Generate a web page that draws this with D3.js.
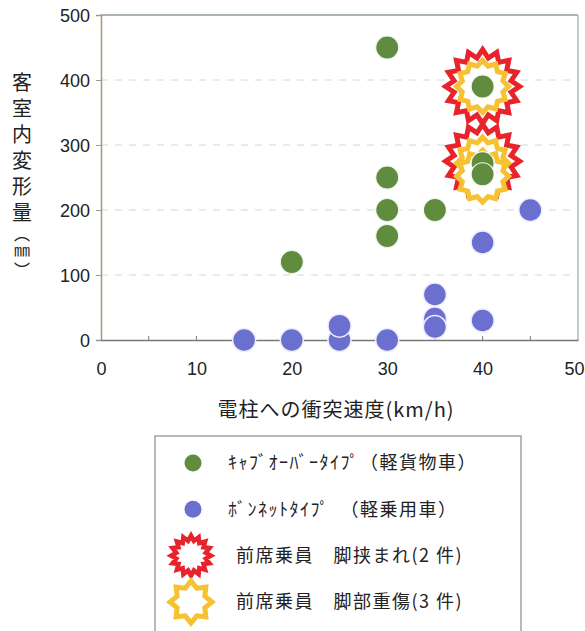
<!DOCTYPE html>
<html>
<head>
<meta charset="utf-8">
<script src="https://cdn.jsdelivr.net/npm/d3@7"></script>
<style>
  body { margin: 0; background: #fff; }
  text { font-family: "Noto Sans CJK JP", sans-serif; }
  .tick-label { font-family: "Liberation Sans", Arial, sans-serif; font-size: 18px; fill: #222; }
</style>
</head>
<body>
<div id="chart"></div>
<script>
// data
const cabSpeed = [30, 40, 40, 40, 30, 30, 35, 30, 20];
const cabDeform = [450, 390, 272, 255, 250, 200, 200, 160, 120];
const bonSpeed = [15, 20, 25, 25, 30, 35, 35, 35, 40, 40, 45];
const bonDeform = [0, 0, 0, 22, 0, 70, 33, 20, 150, 30, 200];
// injuries: leg trapped (red) / severe leg injury (yellow)
const trappedSpeed = [40, 40];
const trappedDeform = [390, 275];
const injurySpeed = [40, 40, 40];
const injuryDeform = [390, 272, 252];

const xTicks = [0, 10, 20, 30, 40, 50];
const xMinor = [5, 10, 15, 20, 25, 30, 35, 40, 45];
const yTicks = [0, 100, 200, 300, 400, 500];
const yGrid = [100, 200, 300, 400];

const yTitle = "客室内変形量";
const yUnit = "（㎜）";
const xTitle = "電柱への衝突速度(km/h)";
const legendLabels = [
    "ｷｬﾌﾞｵｰﾊﾞｰﾀｲﾌﾟ（軽貨物車）",
    "ﾎﾞﾝﾈｯﾄﾀｲﾌﾟ　（軽乗用車）",
    "前席乗員　脚挟まれ(2 件)",
    "前席乗員　脚部重傷(3 件)"
];

const W = 585, H = 631;
const green = "#5f8c3e", blue = "#6a6fd0", red = "#e8232b", yellow = "#f6c232";

const svg = d3.select("#chart").append("svg")
    .attr("width", W).attr("height", H);

const x = d3.scaleLinear().domain([0, 50]).range([101, 578]);
const y = d3.scaleLinear().domain([0, 500]).range([340, 15]);

// star shape
function starPath(n, rOut, rIn) {
    return d3.lineRadial()
        .angle((d, i) => Math.PI * i / n)
        .radius((d, i) => i % 2 ? rIn : rOut)
        .curve(d3.curveLinearClosed)(d3.range(2 * n));
}

// grid lines
svg.append("g").selectAll("line")
    .data(yGrid).enter().append("line")
    .attr("x1", x(0)).attr("x2", x(50))
    .attr("y1", d => y(d)).attr("y2", d => y(d))
    .attr("stroke", "#d4d8d8").attr("stroke-dasharray", "7,7");

// frame
svg.append("line").attr("x1", x(0)).attr("x2", x(50)).attr("y1", y(500)).attr("y2", y(500))
    .attr("stroke", "#8e9c9c").attr("stroke-width", 1.5);
svg.append("line").attr("x1", x(50)).attr("x2", x(50)).attr("y1", y(500)).attr("y2", y(0))
    .attr("stroke", "#a0a8a8").attr("stroke-width", 1.2);

// y axis
const yAxis = svg.append("g").attr("transform", `translate(${x(0)},0)`)
    .call(d3.axisLeft(y).tickValues(yTicks).tickSize(5).tickPadding(6));
yAxis.select(".domain").attr("stroke", "#a89878").attr("stroke-width", 1.5);
yAxis.selectAll(".tick line").attr("stroke", "#999");
yAxis.selectAll(".tick text").attr("class", "tick-label").attr("dy", "0.36em");

// x axis
const xAxis = svg.append("g").attr("transform", `translate(0,${y(0)})`)
    .call(d3.axisBottom(x).tickValues(xTicks).tickSize(0).tickPadding(22));
xAxis.select(".domain").attr("stroke", "#777").attr("stroke-width", 1.5);
xAxis.selectAll(".tick text").attr("class", "tick-label");
// last label sits against the page edge
xAxis.selectAll(".tick text").filter(d => d === 50).attr("dx", -4);
svg.append("g").selectAll("line")
    .data(xMinor).enter().append("line")
    .attr("x1", d => x(d)).attr("x2", d => x(d))
    .attr("y1", y(0)).attr("y2", y(0) - 4)
    .attr("stroke", "#777");

// axis titles
svg.append("text")
    .attr("x", 336).attr("y", 417)
    .attr("text-anchor", "middle")
    .style("font-size", "20px").style("letter-spacing", "1px")
    .attr("fill", "#222")
    .text(xTitle);

svg.append("text")
    .attr("x", 22).attr("y", 72)
    .style("writing-mode", "vertical-rl")
    .style("font-size", "20px").style("letter-spacing", "6px")
    .attr("fill", "#222")
    .text(yTitle);
svg.append("text")
    .attr("x", 22).attr("y", 226)
    .style("writing-mode", "vertical-rl")
    .style("font-size", "16px").style("letter-spacing", "2px")
    .attr("fill", "#222")
    .text(yUnit);

// injury stars
svg.append("g").selectAll("path")
    .data(d3.zip(trappedSpeed, trappedDeform)).enter().append("path")
    .attr("d", starPath(16, 37, 29))
    .attr("transform", d => `translate(${x(d[0])},${y(d[1])})`)
    .attr("fill", "#fff").attr("stroke", red).attr("stroke-width", 5);
svg.append("g").selectAll("path")
    .data(d3.zip(injurySpeed, injuryDeform)).enter().append("path")
    .attr("d", starPath(12, 26, 21))
    .attr("transform", d => `translate(${x(d[0])},${y(d[1])})`)
    .attr("fill", "#fff").attr("stroke", yellow).attr("stroke-width", 5);

// points
svg.append("g").selectAll("circle")
    .data(d3.zip(bonSpeed, bonDeform)).enter().append("circle")
    .attr("cx", d => x(d[0])).attr("cy", d => y(d[1])).attr("r", 11.5)
    .attr("fill", blue).attr("stroke", "#eef").attr("stroke-width", 1.5);
svg.append("g").selectAll("circle")
    .data(d3.zip(cabSpeed, cabDeform)).enter().append("circle")
    .attr("cx", d => x(d[0])).attr("cy", d => y(d[1])).attr("r", 11.5)
    .attr("fill", green).attr("stroke", "#f4f8ee").attr("stroke-width", 1.2);

// legend
const legend = svg.append("g");
legend.append("rect")
    .attr("x", 155).attr("y", 436).attr("width", 366).attr("height", 210)
    .attr("fill", "#fff").attr("stroke", "#8a8a8a").attr("stroke-width", 1.2);

const rowY = d3.scaleLinear().domain([0, 3]).range([463, 602]);

legend.append("circle").attr("cx", 193).attr("cy", rowY(0)).attr("r", 8.5).attr("fill", green);
legend.append("circle").attr("cx", 193).attr("cy", rowY(1)).attr("r", 8.5).attr("fill", blue);
legend.append("path").attr("d", starPath(16, 20, 15))
    .attr("transform", `translate(191,${rowY(2)})`)
    .attr("fill", "#fff").attr("stroke", red).attr("stroke-width", 4.5);
legend.append("path").attr("d", starPath(8, 21, 15))
    .attr("transform", `translate(191,${rowY(3)})`)
    .attr("fill", "#fff").attr("stroke", yellow).attr("stroke-width", 5);

legend.selectAll("text.lg")
    .data(legendLabels).enter().append("text")
    .attr("class", "lg")
    .attr("x", (d, i) => i < 2 ? 228 : 236)
    .attr("y", (d, i) => rowY(i))
    .attr("dy", "0.36em")
    .style("font-size", "18px").style("letter-spacing", "1.5px")
    .attr("fill", "#222")
    .text(d => d);
</script>
</body>
</html>
